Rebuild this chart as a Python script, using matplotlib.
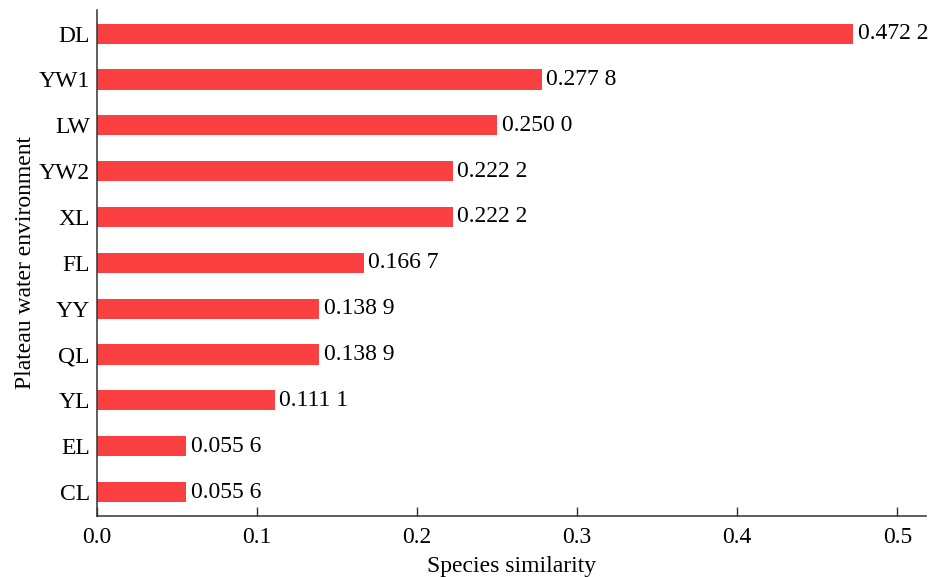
import matplotlib.pyplot as plt

plt.rcParams['font.family'] = ['Liberation Serif', 'DejaVu Serif']

# --- Dati ---
sites = ['DL', 'YW1', 'LW', 'YW2', 'XL', 'FL', 'YY', 'QL', 'YL', 'EL', 'CL']
similarity = [0.4722, 0.2778, 0.2500, 0.2222, 0.2222, 0.1667, 0.1389, 0.1389, 0.1111, 0.0556, 0.0556]
value_labels = ['0.472 2', '0.277 8', '0.250 0', '0.222 2', '0.222 2', '0.166 7',
                '0.138 9', '0.138 9', '0.111 1', '0.055 6', '0.055 6']
x_ticks = [0.0, 0.1, 0.2, 0.3, 0.4, 0.5]

FS = 17

# --- Figura ---
fig = plt.figure(figsize=(9.3, 5.77), dpi=100)
ax = fig.add_axes([0.104, 0.106, 0.892, 0.877])

ypos = list(range(len(sites)))[::-1]  # DL in alto
ax.barh(ypos, similarity, height=0.44, color='#FA4040')

for y, v, lab in zip(ypos, similarity, value_labels):
    ax.text(v + 0.003, y, lab, va='center', ha='left', fontsize=FS, color='black')

ax.set_yticks(ypos)
ax.set_yticklabels(sites)
ax.set_xticks(x_ticks)
ax.set_xticklabels([f'{t:.1f}' for t in x_ticks])
ax.set_xlim(0, 0.518)
ax.set_ylim(-0.52, len(sites) - 1 + 0.52)

ax.tick_params(axis='y', length=0, pad=5, labelsize=FS)
ax.tick_params(axis='x', direction='in', length=6.5, width=1, pad=8, labelsize=FS, color='#333333')

for s in ['top', 'right']:
    ax.spines[s].set_visible(False)
for s in ['left', 'bottom']:
    ax.spines[s].set_linewidth(1.1)
    ax.spines[s].set_color('#333333')

ax.set_xlabel('Species similarity', fontsize=FS, labelpad=6)
ax.set_ylabel('Plateau water environment', fontsize=FS, labelpad=2)

fig.savefig('out.png', dpi=100)
